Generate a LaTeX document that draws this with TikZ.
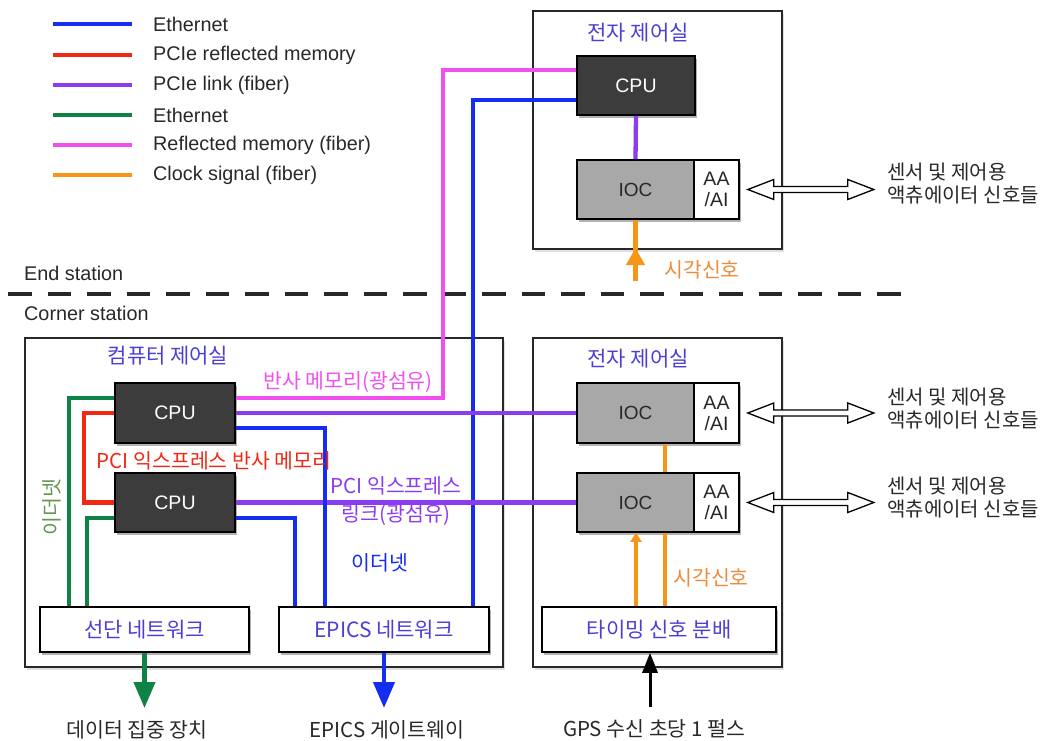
\documentclass[tikz,border=0pt]{standalone}
\usepackage{fontspec}
\setmainfont{Liberation Sans}
\newfontfamily\kr{Noto Sans CJK KR}
\usetikzlibrary{arrows.meta,shadows}
\definecolor{cBlue}{RGB}{20,45,240}
\definecolor{cRed}{RGB}{240,40,20}
\definecolor{cPurple}{RGB}{140,60,240}
\definecolor{cGreen}{RGB}{15,130,70}
\definecolor{cMag}{RGB}{240,80,240}
\definecolor{cOrange}{RGB}{245,150,25}
\definecolor{cTitle}{RGB}{75,63,214}
\definecolor{cText}{RGB}{40,40,40}
\definecolor{cDark}{RGB}{60,60,60}
\definecolor{cGray}{RGB}{168,168,168}
\definecolor{cOrTxt}{RGB}{235,140,60}
\definecolor{cOlive}{RGB}{100,150,80}
\newcommand\hollowdbl[1]{\draw[dblarrow] ([xshift=8pt]#1.east) -- ++(26,-10) -- ++(0,7) -- ++(74,0) -- ++(0,-7) -- ++(26,10) -- ++(-26,10) -- ++(0,-7) -- ++(-74,0) -- ++(0,7) -- cycle;}
\begin{document}
\begin{tikzpicture}[x=1pt,y=-1pt,
  wire/.style={line width=4.3pt},
  shd/.style={drop shadow={shadow xshift=2pt,shadow yshift=-3pt,opacity=0.3,fill=black}},
  room/.style={draw=cText,line width=1.5pt,fill=white,inner sep=0pt,drop shadow={shadow xshift=2pt,shadow yshift=-3pt,opacity=0.12,fill=black}},
  cpubox/.style={draw=black,line width=1.6pt,fill=cDark,text=white,inner sep=0pt,minimum width=120pt,minimum height=60pt,font=\fontsize{19.5}{21}\selectfont,shd},
  iocbox/.style={draw=black,line width=1.6pt,fill=cGray,text=cText,inner sep=0pt,minimum width=117pt,minimum height=60pt,font=\fontsize{19}{21}\selectfont,shd},
  aabox/.style={draw=black,line width=1.6pt,fill=white,text=cText,inner sep=0pt,minimum width=45pt,minimum height=60pt,align=center,font=\fontsize{19.5}{21}\selectfont,shd},
  netbox/.style={draw=black,line width=1.6pt,fill=white,text=cTitle,inner sep=0pt,minimum height=45pt,font=\kr\fontsize{21}{23}\selectfont,shd},
  title/.style={text=cTitle,font=\kr\fontsize{21}{23}\selectfont,inner sep=0pt},
  lbl/.style={font=\kr\fontsize{20.5}{28}\selectfont,inner sep=0pt},
  sens/.style={text=cText,anchor=west,align=left,inner sep=0pt,font=\kr\fontsize{20}{23}\selectfont},
  legtxt/.style={anchor=west,text=cText,font=\fontsize{19.8}{22}\selectfont,inner sep=0pt},
  dblarrow/.style={draw=black,line width=1.3pt,fill=white,line join=miter},
]
\useasboundingbox (0,0) rectangle (1053,741);

% legend
\draw[wire,cBlue]   (53,24)  -- (132,24);  \node[legtxt] (lg1) at (153,24)  {Ethernet};
\draw[wire,cRed]    (53,55)  -- (132,55);  \node[legtxt] (lg2) at (153,55)  {PCIe reflected memory};
\draw[wire,cPurple] (53,85)  -- (132,85);  \node[legtxt] (lg3) at (153,85)  {PCIe link (fiber)};
\draw[wire,cGreen]  (53,115) -- (132,115); \node[legtxt] (lg4) at (153,115) {Ethernet};
\draw[wire,cMag]    (53,145) -- (132,145); \node[legtxt] (lg5) at (153,145) {Reflected memory (fiber)};
\draw[wire,cOrange] (53,175) -- (132,175); \node[legtxt] (lg6) at (153,175) {Clock signal (fiber)};

% stations
\node[legtxt] (endst) at (24,273) {End station};
\node[legtxt] (cornst) at (24,313) {Corner station};
\draw[line width=3.5pt,draw=cText,dash pattern=on 23.5pt off 16pt] (8,294) -- (901,294);

% rooms
\node[room,minimum width=249pt,minimum height=238pt] (endroom) at (657.5,130) {};
\node[room,minimum width=478pt,minimum height=329pt] (leftroom) at (264,502.5) {};
\node[room,minimum width=249pt,minimum height=329pt] (rightroom) at (657.5,502.5) {};

\node[title] (t0) at (638,33) {전자 제어실};
\node[title] (tL) at (168,356) {컴퓨터 제어실};
\node[title] (tR) at (638,359) {전자 제어실};

% boxes
\node[cpubox,minimum width=118pt,minimum height=59pt] (cpuT) at (636,85.5) {CPU};
\node[iocbox,minimum height=59pt] (ioc0) at (635.5,189.5) {IOC};
\node[aabox,minimum height=59pt] (aa0) at (716.5,189.5) {AA\\/AI};

\node[cpubox] (cpu1) at (175,413) {CPU};
\node[cpubox,minimum height=59pt] (cpu2) at (175,502.5) {CPU};
\node[netbox,minimum width=209pt] (sd) at (144.5,629.5) {선단 네트워크};
\node[netbox,minimum width=210pt] (ep) at (384,629.5) {EPICS 네트워크};

\node[iocbox] (ioc1) at (635.5,413) {IOC};
\node[aabox] (aa1) at (716.5,413) {AA\\/AI};
\node[iocbox,minimum height=59pt] (ioc2) at (635.5,502.5) {IOC};
\node[aabox,minimum height=59pt] (aa2) at (716.5,502.5) {AA\\/AI};
\node[netbox,minimum width=234pt] (tm) at (659,629.5) {타이밍 신호 분배};

% wires
\draw[wire,cMag] ([yshift=15pt]cpu1.east) -| (443,70) -- ([yshift=15.5pt]cpuT.west);
\draw[wire,cBlue] ([xshift=89pt]ep.north) |- ([yshift=-14.5pt]cpuT.west);
\draw[wire,cPurple] (cpuT.south) -- (ioc0.north);
\draw[wire,cPurple] (cpu1.east) -- (ioc1.west);
\draw[wire,cPurple] (cpu2.east) -- (ioc2.west);
\draw[wire,cBlue] ([yshift=-15pt]cpu1.east) -| ([xshift=-59pt]ep.north);
\draw[wire,cBlue] ([yshift=-15.5pt]cpu2.east) -| ([xshift=-89pt]ep.north);
\draw[wire,cRed] (cpu1.west) -- ++(-30,0) |- (cpu2.west);
\draw[wire,cGreen] ([yshift=15pt]cpu1.west) -| ([xshift=-75.5pt]sd.north);
\draw[wire,cGreen] ([yshift=-15.5pt]cpu2.west) -| ([xshift=-57.5pt]sd.north);
\draw[wire,cOrange] ([xshift=29.5pt]ioc1.south) -- ([xshift=29.5pt]ioc2.north);
\draw[wire,cOrange,-{Triangle[length=9pt,width=11pt]}] ([xshift=-23pt]tm.north) -- ([xshift=0.5pt]ioc2.south);
\draw[wire,cOrange] ([xshift=6pt]tm.north) -- ([xshift=29.5pt]ioc2.south);

\coordinate (clk0) at (635.5,281);
\draw[wire,cOrange] (clk0) -- (ioc0.south);
\draw[wire,cOrange,-{Triangle[length=17pt,width=18pt]}] (clk0) -- ++(0,-33);

\coordinate (gps) at (650,707);
\draw[line width=3pt,black,-{Triangle[length=20pt,width=15pt]}] (gps) -- (gps |- tm.south);

\coordinate (dcA) at (145,708);
\coordinate (gwA) at (384,708);
\draw[wire,cGreen,-{Triangle[length=26pt,width=21pt]}] (sd.south) -- (sd.south |- dcA);
\draw[wire,cBlue,-{Triangle[length=26pt,width=21pt]}] (ep.south) -- (ep.south |- gwA);

% double arrows
\hollowdbl{aa0}
\hollowdbl{aa1}
\hollowdbl{aa2}

% labels
\node[lbl,text=cMag] (lblMag) at (348,382) {반사 메모리(광섬유)};
\node[lbl,text=cRed] (lblRed) at (214,461) {PCI 익스프레스 반사 메모리};
\node[lbl,text=cPurple,align=center] (lblPur) at (396,501) {PCI 익스프레스\\링크(광섬유)};
\node[lbl,text=cBlue] (lblBlue) at (380,563) {이더넷};
\node[lbl,text=cOlive,rotate=90] (lblGreen) at (52,507) {이더넷};
\node[lbl,text=cOrTxt] (clkL0) at (702,270) {시각신호};
\node[lbl,text=cOrTxt] (clkL1) at (711,578) {시각신호};

\node[sens] (sens0) at (887,184) {센서 및 제어용\\액츄에이터 신호들};
\node[sens] (sens1) at (887,409) {센서 및 제어용\\액츄에이터 신호들};
\node[sens] (sens2) at (887,498) {센서 및 제어용\\액츄에이터 신호들};

\node[lbl,text=cText] (dc) at (137,730) {데이터 집중 장치};
\node[lbl,text=cText] (gw) at (387,730) {EPICS 게이트웨이};
\node[lbl,text=cText] (gpsl) at (654,729) {GPS 수신 초당 1 펄스};
\end{tikzpicture}
\end{document}
